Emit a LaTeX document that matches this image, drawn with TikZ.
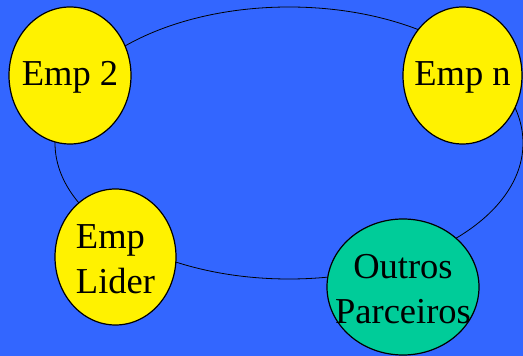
\documentclass[tikz,border=0pt]{standalone}
\usepackage{fontspec}
\newfontfamily\lserif{Liberation Serif}
\usetikzlibrary{shapes.geometric}
\definecolor{bgblue}{RGB}{51,102,255}
\definecolor{partnergreen}{RGB}{0,204,153}
\tikzset{
  bubble/.style={ellipse, draw=black, line width=1.2pt, inner sep=0pt},
  bubbletext/.style={inner sep=0pt, font=\lserif\fontsize{36.5}{44.5}\selectfont},
  ring/.style={draw=black, line width=0.8pt}
}
\begin{document}
\begin{tikzpicture}[x=1pt,y=1pt]
  % background
  \fill[bgblue] (0,0) rectangle (523,356);
  \useasboundingbox (0,0) rectangle (523,356);
  % the network ring linking all members
  \coordinate (ringc) at (289,213);
  \draw[ring] (ringc) ellipse [x radius=234, y radius=136];
  % members
  \node[bubble, fill=yellow, minimum width=122pt, minimum height=137pt] (emp2) at (70,280.5) {};
  \node[bubbletext] (emp2t) at ([yshift=-2pt]emp2.center) {Emp 2};
  \node[bubble, fill=yellow, minimum width=119pt, minimum height=137pt] (empn) at (462.5,280.5) {};
  \node[bubbletext] (empnt) at ([yshift=-2pt]empn.center) {Emp n};
  \node[bubble, fill=yellow, minimum width=121pt, minimum height=136pt] (lider) at (115.5,99) {};
  \node[bubbletext, align=left] (lidert) at ([yshift=-2pt]lider.center) {Emp\\Lider};
  \node[bubble, fill=partnergreen, minimum width=152pt, minimum height=136pt] (outros) at (403,69) {};
  \node[bubbletext, align=center] (outrost) at ([yshift=-2pt]outros.center) {Outros\\Parceiros};
\end{tikzpicture}
\end{document}
